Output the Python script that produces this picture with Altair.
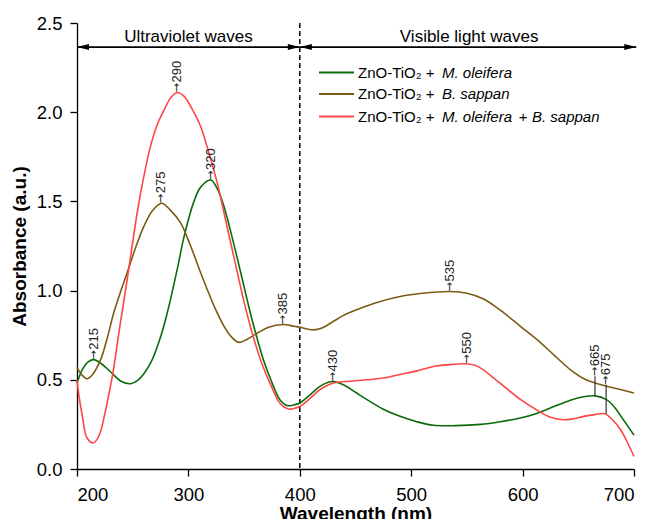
import altair as alt
import pandas as pd

# ---------------- data ----------------
series_names = [
    "ZnO-TiO2 + M. oleifera",
    "ZnO-TiO2 + B. sappan",
    "ZnO-TiO2 + M. oleifera + B. sappan",
]
series_colors = ["#0b6b0b", "#7a5c12", "#ff4545"]

wl_green = [200, 205, 210, 215, 222, 230, 240, 248, 255, 266, 275, 281, 290, 296, 305, 311, 320, 326, 332,
            340, 347, 355, 362, 368, 374, 382, 389, 395, 400, 410, 418, 425, 430, 440, 450, 460, 475, 490,
            505, 520, 540, 562, 580, 598, 612, 628, 645, 655, 665, 675, 682, 690, 700]
abs_green = [0.48, 0.56, 0.60, 0.613, 0.59, 0.545, 0.49, 0.478, 0.50, 0.594, 0.74, 0.874, 1.12, 1.30, 1.50,
             1.58, 1.62, 1.57, 1.47, 1.28, 1.10, 0.89, 0.725, 0.60, 0.50, 0.39, 0.355, 0.36, 0.37, 0.42,
             0.463, 0.485, 0.49, 0.47, 0.43, 0.39, 0.335, 0.295, 0.265, 0.245, 0.243, 0.25, 0.265, 0.286,
             0.31, 0.35, 0.39, 0.405, 0.41, 0.39, 0.35, 0.28, 0.19]

wl_brown = [200, 204, 209, 214, 221, 227, 233, 240, 245, 252, 260, 268, 276, 284, 293, 302, 311, 317, 324,
            332, 338, 345, 352, 362, 372, 385, 395, 400, 412, 420, 430, 442, 454, 470, 490, 510, 535, 550,
            565, 580, 598, 613, 628, 643, 657, 672, 685, 700]
abs_brown = [0.57, 0.53, 0.506, 0.53, 0.61, 0.73, 0.876, 1.01, 1.10, 1.23, 1.36, 1.45, 1.49, 1.45, 1.38,
             1.25, 1.10, 1.005, 0.90, 0.80, 0.745, 0.71, 0.725, 0.762, 0.795, 0.81, 0.80, 0.795, 0.78, 0.79,
             0.827, 0.87, 0.90, 0.935, 0.967, 0.985, 0.995, 0.985, 0.953, 0.89, 0.80, 0.725, 0.64, 0.556,
             0.50, 0.47, 0.45, 0.426]

wl_red = [200, 202, 205, 209, 215, 220, 225, 228, 232, 238, 245, 254, 260, 266, 272, 278, 284, 290, 296,
          304, 311, 318, 326, 335, 344, 351, 359, 366, 374, 382, 390, 395, 400, 410, 418, 425, 432, 445,
          460, 475, 490, 505, 520, 535, 548, 558, 566, 574, 582, 598, 613, 625, 637, 646, 655, 665, 674,
          680, 688, 694, 700]
abs_red = [0.50, 0.40, 0.29, 0.174, 0.147, 0.19, 0.31, 0.40, 0.53, 0.78, 1.06, 1.435, 1.64, 1.81, 1.93,
           2.01, 2.08, 2.11, 2.09, 2.01, 1.92, 1.78, 1.60, 1.35, 1.10, 0.91, 0.725, 0.59, 0.47, 0.37, 0.336,
           0.34, 0.35, 0.40, 0.445, 0.47, 0.485, 0.492, 0.50, 0.51, 0.53, 0.55, 0.575, 0.585, 0.59, 0.58,
           0.55, 0.51, 0.47, 0.39, 0.33, 0.29, 0.276, 0.282, 0.295, 0.305, 0.31, 0.28, 0.22, 0.15, 0.07]

peak_wl = [215, 275, 290, 320, 385, 430, 535, 550, 665, 675]
peak_abs = [0.613, 1.49, 2.11, 1.62, 0.81, 0.49, 0.995, 0.59, 0.41, 0.31]
peak_label_base = [0.613, 1.49, 2.11, 1.62, 0.81, 0.49, 0.995, 0.59, 0.52, 0.47]

region_labels = ["Ultraviolet waves", "Visible light waves"]
region_center = [300, 552]
region_start = [200, 400]
region_end = [400, 702]
region_text_y = 2.424
region_arrow_y = 2.365
divider_wl = 400

x_ticks = [200, 300, 400, 500, 600, 700]
y_ticks = [0.0, 0.5, 1.0, 1.5, 2.0, 2.5]

FONT = "Liberation Sans"

# ---------------- tables ----------------
rows = []
for name, xs_, ys_ in [(series_names[0], wl_green, abs_green),
                       (series_names[1], wl_brown, abs_brown),
                       (series_names[2], wl_red, abs_red)]:
    for x, y in zip(xs_, ys_):
        rows.append({"series": name, "wl": x, "A": y})
curves = pd.DataFrame(rows)

peaks = pd.DataFrame({
    "wl": peak_wl,
    "A": peak_abs,
    "base": peak_label_base,
    "label": [str(w) for w in peak_wl],
    "arrow": ["\u2192"] * len(peak_wl),
})
regions = pd.DataFrame({
    "label": region_labels,
    "xc": region_center,
    "x1": region_start,
    "x2": region_end,
    "ty": [region_text_y] * 2,
    "ay": [region_arrow_y] * 2,
})
heads = pd.DataFrame({
    "x": [region_start[0], region_end[0], region_start[1], region_end[1]],
    "y": [region_arrow_y] * 4,
    "dir": ["L", "R", "L", "R"],
})

xs = alt.Scale(domain=[200, 700], nice=False, zero=False)
ys = alt.Scale(domain=[0, 2.5], nice=False, zero=False)

X = alt.X("wl:Q", scale=xs,
          axis=alt.Axis(values=x_ticks, title="Wavelength (nm)", format="d",
                        labelPadding=9, titlePadding=1))
Y = alt.Y("A:Q", scale=ys,
          axis=alt.Axis(values=y_ticks, title="Absorbance (a.u.)", format=".1f",
                        labelPadding=8, titlePadding=7))

lines = alt.Chart(curves).mark_line(strokeWidth=1.6, interpolate="catmull-rom").encode(
    x=X, y=Y,
    color=alt.Color("series:N", scale=alt.Scale(domain=series_names, range=series_colors), legend=None),
    detail="series:N",
)

divider = alt.Chart(pd.DataFrame({"wl": [divider_wl]})).mark_rule(
    color="black", strokeWidth=1.5, strokeDash=[5, 3]
).encode(x=alt.X("wl:Q", scale=xs))

arrows = alt.Chart(regions).mark_rule(color="black", strokeWidth=1.6).encode(
    x=alt.X("x1:Q", scale=xs), x2="x2:Q", y=alt.Y("ay:Q", scale=ys)
)
right_head = alt.Chart(heads[heads["dir"] == "R"]).mark_point(
    shape="M0,0L-2,-0.5L-2,0.5Z", filled=True, color="black", opacity=1, size=144
).encode(x=alt.X("x:Q", scale=xs), y=alt.Y("y:Q", scale=ys))
left_head = alt.Chart(heads[heads["dir"] == "L"]).mark_point(
    shape="M0,0L2,-0.5L2,0.5Z", filled=True, color="black", opacity=1, size=144
).encode(x=alt.X("x:Q", scale=xs), y=alt.Y("y:Q", scale=ys))

region_text = alt.Chart(regions).mark_text(
    font=FONT, fontSize=17, color="black", align="center", baseline="middle"
).encode(x=alt.X("xc:Q", scale=xs), y=alt.Y("ty:Q", scale=ys), text="label:N")

stems = alt.Chart(peaks[peaks["base"] > peaks["A"]]).mark_rule(color="#333333", strokeWidth=1.2).encode(
    x=alt.X("wl:Q", scale=xs), y=alt.Y("A:Q", scale=ys), y2="base:Q"
)
peak_arrow = alt.Chart(peaks).mark_text(
    font="DejaVu Sans", fontSize=11, color="#222222", angle=270, align="left", baseline="middle"
).encode(x=alt.X("wl:Q", scale=xs), y=alt.Y("base:Q", scale=ys), text="arrow:N")
peak_text = alt.Chart(peaks).mark_text(
    font=FONT, fontSize=13, color="#222222", angle=270, align="left", baseline="middle", dx=10
).encode(x=alt.X("wl:Q", scale=xs), y=alt.Y("base:Q", scale=ys), text="label:N")

# ---------------- legend (manual, mixed italic) ----------------
leg_rows_y = [49.5, 71, 93.5]
leg_line_x1, leg_line_x2 = 242, 277
leg_text_x = 281
leg_italic_x = 365

legend_layers = []
for i in range(3):
    legend_layers.append(
        alt.Chart(pd.DataFrame({"k": [0]})).mark_rule(color=series_colors[i], strokeWidth=2).encode(
            x=alt.value(leg_line_x1), x2=alt.value(leg_line_x2), y=alt.value(leg_rows_y[i])
        )
    )
    legend_layers.append(
        alt.Chart(pd.DataFrame({"t": ["ZnO-TiO\u2082 +"]})).mark_text(
            font=FONT, fontSize=15, align="left", baseline="middle", color="black"
        ).encode(x=alt.value(leg_text_x), y=alt.value(leg_rows_y[i]), text="t:N")
    )
italic_parts = [("M. oleifera", 0, leg_italic_x), ("B. sappan", 1, leg_italic_x),
                ("M. oleifera", 2, leg_italic_x), ("B. sappan", 2, 455)]
for txt, r, xpos in italic_parts:
    legend_layers.append(
        alt.Chart(pd.DataFrame({"t": [txt]})).mark_text(
            font=FONT, fontSize=15, fontStyle="italic", align="left", baseline="middle", color="black"
        ).encode(x=alt.value(xpos), y=alt.value(leg_rows_y[r]), text="t:N")
    )
legend_layers.append(
    alt.Chart(pd.DataFrame({"t": ["+"]})).mark_text(
        font=FONT, fontSize=15, align="center", baseline="middle", color="black"
    ).encode(x=alt.value(446), y=alt.value(leg_rows_y[2]), text="t:N")
)

chart = alt.layer(
    divider, lines, arrows, right_head, left_head, region_text, stems, peak_arrow, peak_text, *legend_layers
).properties(
    width=557, height=446,
    autosize=alt.AutoSizeParams(type="none"),
    padding={"left": 77, "top": 23, "right": 17, "bottom": 50},
).configure_view(stroke=None).configure_axis(
    grid=False, domainColor="black", domainWidth=1.3, tickColor="black", tickWidth=1.3, tickSize=7,
    labelFont=FONT, labelFontSize=18.5, labelColor="black",
    titleFont=FONT, titleFontSize=19, titleFontWeight="bold", titleColor="black",
)

chart.save("out.html", embed_options={"renderer": "svg", "actions": False})
